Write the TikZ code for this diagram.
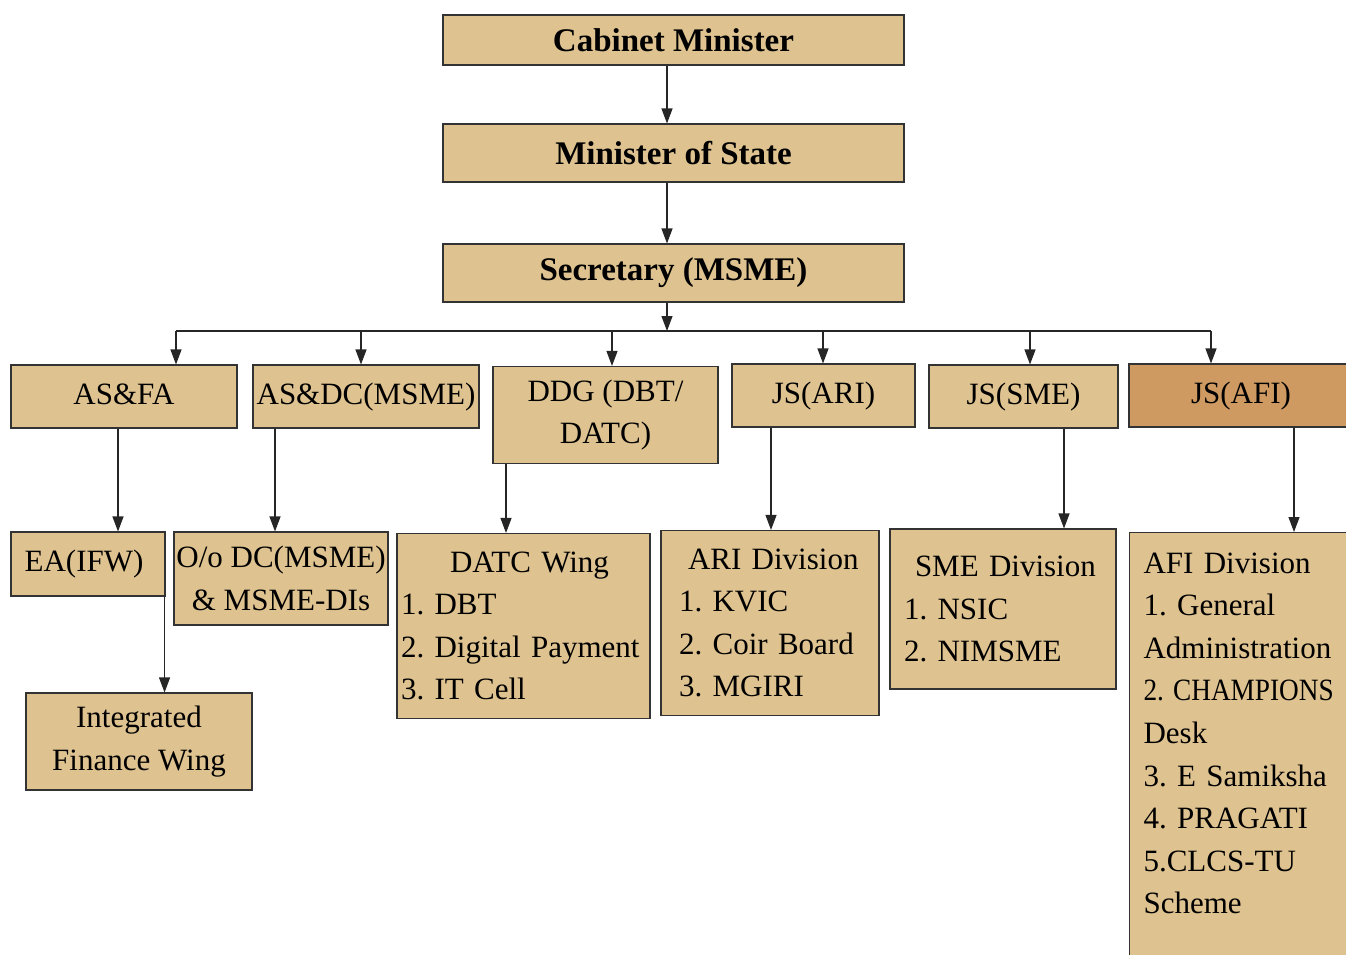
\documentclass[tikz,border=0pt]{standalone}
\usepackage{fontspec}
\setmainfont{Liberation Serif}
\usepackage{tikz}
\usetikzlibrary{arrows.meta,positioning}
\frenchspacing
\definecolor{boxtan}{RGB}{222,194,144}
\definecolor{boxrust}{RGB}{206,154,98}
\tikzset{%
box/.style={draw=black!80, line width=1.1pt, fill=boxtan, inner sep=2pt, font=\fontsize{31}{42.6}\selectfont},
onebox/.style={box, text height=22pt, text depth=7pt},
headbox/.style={box, minimum width=461pt, font=\bfseries\fontsize{33}{40}\selectfont},
listbox/.style={box, align=left},
pt/.style={draw=black!85, line width=1.1pt, -{Triangle[length=15pt,width=11pt]}},
bus/.style={draw=black!85, line width=1.1pt}
}

\begin{document}
\begin{tikzpicture}[x=1pt, y=-1pt]
		\useasboundingbox (0,0) rectangle (1346,954);
		\clip (0,0) rectangle (1346,954);
		% top chain
		\node[headbox, minimum height=50pt] (cabinet) at (673.5,40) {Cabinet Minister};
		\node[headbox, minimum height=58pt] (mos) at (673.5,153) {Minister of State};
		\node[headbox, minimum height=58pt] (secy) at (673.5,273) {Secretary (MSME)};
		
		% second row
		\node[onebox, minimum width=226pt, minimum height=63pt] (asfa) at (124,396.5) {AS\&FA};
		\node[onebox, minimum width=226pt, minimum height=63pt] (asdc) at (366,396.5) {AS\&DC(MSME)};
		\node[box, align=center, minimum width=225pt, minimum height=97pt] (ddg) at (605.5,415) {DDG (DBT/\\DATC)};
		\node[onebox, minimum width=183pt, minimum height=63pt] (jsari) at (823.5,395.5) {JS(ARI)};
		\node[onebox, minimum width=189pt, minimum height=63pt] (jssme) at (1023.5,396.5) {JS(SME)};
		\node[onebox, fill=boxrust, minimum width=224pt, minimum height=63pt] (jsafi) at (1241,395.5) {JS(AFI)};
		
		% third row
		\node[onebox, minimum width=154pt, minimum height=64pt] (eaifw) at (88,564) {EA(IFW)\hspace*{8pt}};
		\node[box, align=center, minimum width=214pt, minimum height=93pt] (oodc) at (281,578.5) {O/o DC(MSME)\\\& MSME-DIs};
		\node[listbox, text width=245pt, inner xsep=4pt, minimum height=185pt] (datc) at (523.5,626) {\hspace*{49pt}DATC Wing\\1. DBT\\2. Digital Payment\\3. IT Cell};
		\node[listbox, text width=182pt, inner xsep=18pt, minimum height=185pt] (ari) at (770,623) {\hspace*{9pt}ARI Division\\1. KVIC\\2. Coir Board\\3. MGIRI};
		\node[listbox, text width=198pt, inner xsep=14pt, minimum height=160pt] (sme) at (1003,609) {\hspace*{11pt}SME Division\\1. NSIC\\2. NIMSME};
		\node[listbox, text width=230pt, inner xsep=14pt, inner ysep=20pt, text depth=430pt, anchor=north west] (afi) at (1129,532) {AFI Division\\1. General\\Administration\\\scalebox{0.88}[1]{2. CHAMPIONS}\\Desk\\3. E Samiksha\\4. PRAGATI\\5.CLCS-TU\\Scheme};
		
		% fourth row
		\node[box, align=center, minimum width=226pt, minimum height=97pt] (ifw) at (139,741.5) {Integrated\\Finance Wing};
		
		% connectors
		\coordinate (b0) at (667,331);
		\coordinate (b1) at (176,331);
		\coordinate (b2) at (361,331);
		\coordinate (b3) at (612,331);
		\coordinate (b4) at (823,331);
		\coordinate (b5) at (1030,331);
		\coordinate (b6) at (1211,331);
		\draw[pt] (b0 |- cabinet.south) -- (b0 |- mos.north);
		\draw[pt] (b0 |- mos.south) -- (b0 |- secy.north);
		\draw[pt] (b0 |- secy.south) -- (b0);
		\draw[bus] (b1) -- (b6);
		\draw[pt] (b1) -- (b1 |- asfa.north);
		\draw[pt] (b2) -- (b2 |- asdc.north);
		\draw[pt] (b3) -- (b3 |- ddg.north);
		\draw[pt] (b4) -- (b4 |- jsari.north);
		\draw[pt] (b5) -- (b5 |- jssme.north);
		\draw[pt] (b6) -- (b6 |- jsafi.north);
		
		\coordinate (d1) at ([xshift=-6pt]asfa.south);
		\coordinate (d2) at ([xshift=-91pt]asdc.south);
		\coordinate (d3) at ([xshift=-99.5pt]ddg.south);
		\coordinate (d4) at ([xshift=-52.5pt]jsari.south);
		\coordinate (d5) at ([xshift=40.5pt]jssme.south);
		\coordinate (d6) at ([xshift=53pt]jsafi.south);
		\coordinate (d7) at ([xshift=-1pt]eaifw.south east);
		\draw[pt] (d1) -- (d1 |- eaifw.north);
		\draw[pt] (d2) -- (d2 |- oodc.north);
		\draw[pt] (d3) -- (d3 |- datc.north);
		\draw[pt] (d4) -- (d4 |- ari.north);
		\draw[pt] (d5) -- (d5 |- sme.north);
		\draw[pt] (d6) -- (d6 |- afi.north);
		\draw[pt] (d7) -- (d7 |- ifw.north);
	\end{tikzpicture}
\end{document}
